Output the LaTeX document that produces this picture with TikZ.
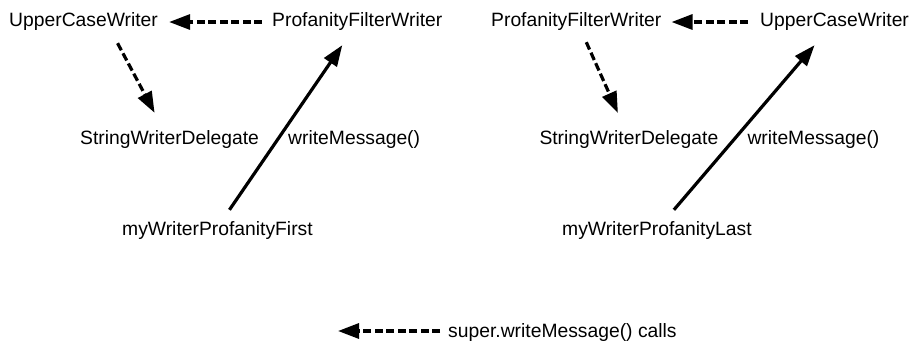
\documentclass[tikz,border=0pt]{standalone}
\usepackage{fontspec}
\setmainfont{Liberation Sans}
\usetikzlibrary{arrows.meta}
\begin{document}
\begin{tikzpicture}[x=1pt,y=-1pt,
  lbl/.style={inner sep=0pt,anchor=base west,font=\fontsize{19.3}{22}\selectfont},
  dasharr/.style={line width=3.2pt,dash pattern=on 8pt off 3.5pt,-{Triangle[length=21pt,width=15pt]}},
  solidarr/.style={line width=3.2pt,-{Triangle[length=21pt,width=15pt]}}]
\useasboundingbox (0,0) rectangle (911,342);
% left panel
\node[lbl] (UCW) at (9,27) {UpperCaseWriter};
\node[lbl] (PFW) at (272,27) {ProfanityFilterWriter};
\node[lbl] (SWD) at (80,145) {StringWriterDelegate};
\node[lbl] (WM) at (288,145) {writeMessage()};
\node[lbl] (MWPF) at (122,235) {myWriterProfanityFirst};
\draw[dasharr,shorten <=10pt,shorten >=11pt] (PFW.west) -- (UCW.east);
\draw[dasharr] ([xshift=34pt,yshift=-12pt]UCW.south) -- ([xshift=-15pt,yshift=18pt]SWD.north);
\draw[solidarr] ([xshift=12pt,yshift=11pt]MWPF.north) -- ([xshift=-15pt,yshift=-14pt]PFW.south);
% right panel
\node[lbl] (PFW2) at (491,27) {ProfanityFilterWriter};
\node[lbl] (UCW2) at (760,27) {UpperCaseWriter};
\node[lbl] (SWD2) at (539.3,145) {StringWriterDelegate};
\node[lbl] (WM2) at (747.3,145) {writeMessage()};
\node[lbl] (MWPL) at (562,235) {myWriterProfanityLast};
\draw[dasharr,shorten <=12pt,shorten >=10pt] (UCW2.west) -- (PFW2.east);
\draw[dasharr] ([xshift=10pt,yshift=-11pt]PFW2.south) -- ([xshift=-11pt,yshift=18pt]SWD2.north);
\draw[solidarr] ([xshift=17pt,yshift=11pt]MWPL.north) -- ([xshift=-20pt,yshift=-14pt]UCW2.south);
% legend
\node[lbl] (LEG) at (448,337) {super.writeMessage() calls};
\coordinate (LT) at (338,331);
\draw[dasharr,shorten <=8pt] (LEG.west |- LT) -- (LT);
\end{tikzpicture}
\end{document}
